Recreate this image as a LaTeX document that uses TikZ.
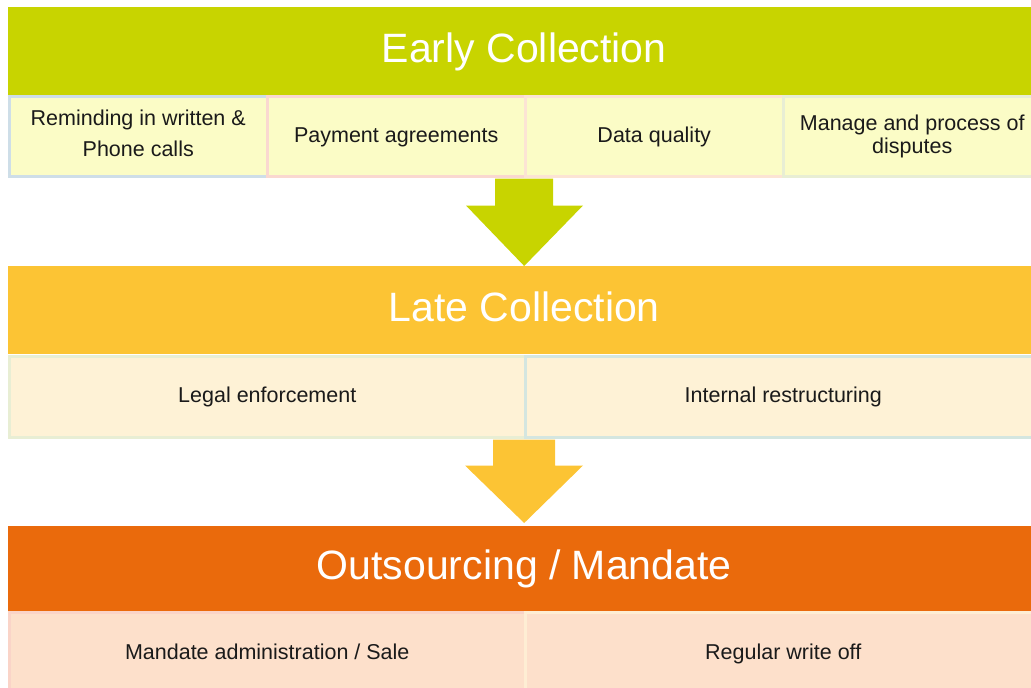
\documentclass[tikz,border=0pt]{standalone}
\usepackage{fontspec}
\setmainfont{Liberation Sans}
\usetikzlibrary{calc}

% palette
\definecolor{cGreen}{RGB}{200,212,0}
\definecolor{cAmber}{RGB}{252,196,52}
\definecolor{cOrange}{RGB}{234,106,12}
\definecolor{cRowA}{RGB}{251,252,198}
\definecolor{cRowB}{RGB}{254,242,214}
\definecolor{cRowC}{RGB}{253,224,203}
\definecolor{bBlue}{RGB}{206,222,232}
\definecolor{bPink}{RGB}{250,216,208}
\definecolor{bPeach}{RGB}{252,228,212}
\definecolor{bSage}{RGB}{232,238,212}
\definecolor{bTeal}{RGB}{212,230,224}
\definecolor{bRose}{RGB}{250,212,200}
\definecolor{bCream}{RGB}{254,238,212}
\definecolor{textC}{RGB}{26,26,26}

\begin{document}
\begin{tikzpicture}[x=1pt,y=-1pt,
  header/.style={rectangle, anchor=north west, inner sep=0pt,
    minimum width=1032pt, text=white, font=\fontsize{41}{48}\selectfont,
    text height=30pt, text depth=8pt},
  cell/.style={rectangle, anchor=north west, inner sep=0pt, line width=2.5pt,
    text=textC, font=\fontsize{21.5}{26}\selectfont, align=center},
  oneline/.style={text height=16pt, text depth=4.5pt},
  wide/.style={cell, oneline, minimum width=516pt},
  narrow/.style={cell, minimum width=258pt},
  celltext/.style={text=textC, align=center, inner sep=0pt},
]
\useasboundingbox (0,0) rectangle (1031,688);

% stage headers
\node[header, fill=cGreen,  minimum height=88pt] (early) at (8,7)   {Early Collection};
\node[header, fill=cAmber,  minimum height=88pt] (late)  at (8,266) {Late Collection};
\node[header, fill=cOrange, minimum height=85pt] (out)   at (8,526) {Outsourcing / Mandate};

% early collection tasks
\node[narrow, fill=cRowA, draw=bBlue,  minimum height=80pt] (e1) at (8,95) {};
\node[celltext, font=\fontsize{21.5}{31}\selectfont] (e1t) at ($(e1.center)+(0,-3)$)
      {Reminding in written \&\\Phone calls};
\node[narrow, oneline, fill=cRowA, draw=bPink,  minimum height=80pt] (e2) at (266,95) {Payment agreements};
\node[narrow, oneline, fill=cRowA, draw=bPeach, minimum height=80pt] (e3) at (524,95) {Data quality};
\node[narrow, fill=cRowA, draw=bSage,  minimum height=80pt,
      font=\fontsize{21.5}{23}\selectfont] (e4) at (782,95)
      {Manage and process of\\disputes};

% late collection tasks
\node[wide, fill=cRowB, draw=bSage, minimum height=81pt] (l1) at (8,355)   {Legal enforcement};
\node[wide, fill=cRowB, draw=bTeal, minimum height=81pt] (l2) at (524,355) {Internal restructuring};

% outsourcing tasks
\node[wide, fill=cRowC, draw=bRose,  minimum height=82pt] (o1) at (8,611)   {Mandate administration / Sale};
\node[wide, fill=cRowC, draw=bCream, minimum height=82pt] (o2) at (524,611) {Regular write off};

% block arrows between the stages
\fill[cGreen] ($(e3.south west)+(-29,1)$) -- ++(58,0) -- ++(0,27) -- ++(30,0)
  -- (late.north) -- ($(e3.south west)+(-58,28)$) -- ++(29,0) -- cycle;
\fill[cAmber] ($(l2.south west)+(-31,1)$) -- ++(62,0) -- ++(0,26) -- ++(28,0)
  -- ($(out.north)+(0,-3)$) -- ($(l2.south west)+(-59,27)$) -- ++(28,0) -- cycle;
\end{tikzpicture}
\end{document}
